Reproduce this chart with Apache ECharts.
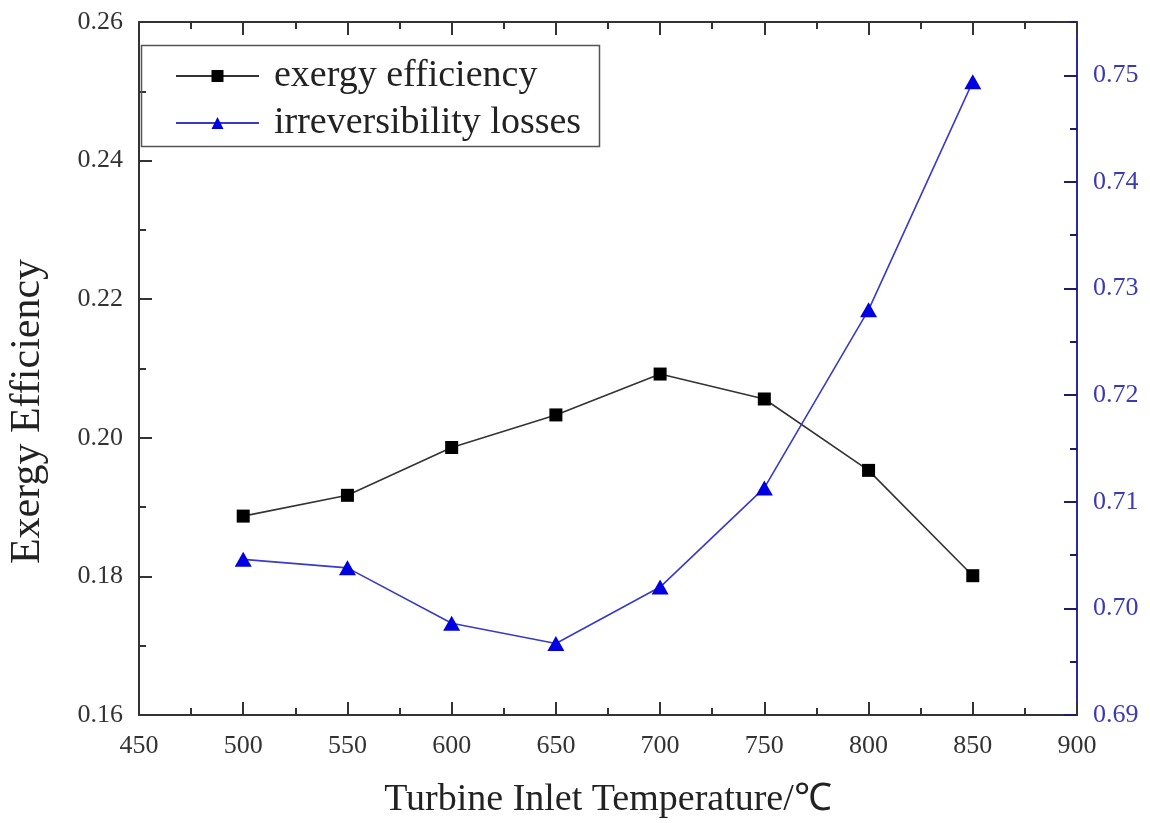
<!DOCTYPE html>
<html>
<head>
<meta charset="utf-8">
<script src="https://cdn.jsdelivr.net/npm/echarts@6/dist/echarts.min.js"></script>
<style>
html,body{margin:0;padding:0;background:#fff;}
#chart{width:1150px;height:823px;}
</style>
</head>
<body>
<div id="chart"></div>
<script>
const temperatures = [500, 550, 600, 650, 700, 750, 800, 850];
const exergyEfficiency = [0.1887, 0.1917, 0.1986, 0.2033, 0.2092, 0.2056, 0.1953, 0.1801];
const irreversibilityLosses = [0.7046, 0.7038, 0.6986, 0.6967, 0.7020, 0.7113, 0.7280, 0.7494];
const seriesNames = ['exergy efficiency', 'irreversibility losses'];
const xTitle = 'Turbine Inlet Temperature/℃';
const yTitle = 'Exergy Efficiency';

const FONT = '"Liberation Serif", "Times New Roman", serif';
const DARK = '#333333';
const BLUE_AXIS = '#2a2a9e';
const BLUE_LABEL = '#3a3ab4';

const chart = echarts.init(document.getElementById('chart'), null, {renderer: 'canvas'});

const xCommon = {
  type: 'value', min: 450, max: 900, interval: 50,
  axisLine: {show: true, onZero: false, lineStyle: {color: DARK, width: 2}},
  axisTick: {show: true, inside: true, length: 13, lineStyle: {color: DARK, width: 2}},
  minorTick: {show: true, splitNumber: 2, length: 7, lineStyle: {color: DARK, width: 2}},
  splitLine: {show: false}, minorSplitLine: {show: false}
};

chart.setOption({
  animation: false,
  backgroundColor: '#ffffff',
  grid: {left: 139, right: 73, top: 22, bottom: 108, containLabel: false, outerBoundsMode: 'none'},
  legend: {
    orient: 'vertical', left: 170, top: 52,
    itemWidth: 83, itemHeight: 15, itemGap: 9,
    data: seriesNames,
    textStyle: {fontFamily: FONT, fontSize: 38, color: '#222', lineHeight: 38, padding: [0, 0, 0, 10]}
  },
  xAxis: [
    Object.assign({}, xCommon, {
      position: 'bottom',
      name: xTitle, nameLocation: 'middle', nameGap: 66,
      nameTextStyle: {fontFamily: FONT, fontSize: 38, color: '#222'},
      axisLabel: {show: true, margin: 18, fontFamily: FONT, fontSize: 26, color: '#333'}
    }),
    Object.assign({}, xCommon, {
      position: 'top',
      axisLabel: {show: false}
    })
  ],
  yAxis: [
    {
      type: 'value', position: 'left', min: 0.16, max: 0.26, interval: 0.02,
      name: yTitle, nameLocation: 'middle', nameGap: 90, nameRotate: 90,
      nameTextStyle: {fontFamily: FONT, fontSize: 42, color: '#222', padding: [0, 86, 0, 0]},
      axisLine: {show: true, onZero: false, lineStyle: {color: DARK, width: 2}},
      axisTick: {show: true, inside: true, length: 13, lineStyle: {color: DARK, width: 2}},
      minorTick: {show: true, splitNumber: 2, length: 7, lineStyle: {color: DARK, width: 2}},
      axisLabel: {margin: 16, fontFamily: FONT, fontSize: 26, color: '#333', formatter: v => v.toFixed(2)},
      splitLine: {show: false}
    },
    {
      type: 'value', position: 'right', min: 0.69, max: 0.755, interval: 0.01,
      axisLine: {show: true, onZero: false, lineStyle: {color: BLUE_AXIS, width: 2}},
      axisTick: {show: true, inside: true, length: 13, lineStyle: {color: '#1c1c70', width: 2}},
      minorTick: {show: false},
      axisLabel: {margin: 16, fontFamily: FONT, fontSize: 26, color: BLUE_LABEL, showMaxLabel: false,
        formatter: v => (Math.abs(v - 0.755) < 1e-6 ? '' : v.toFixed(2))},
      splitLine: {show: false}
    },
    {
      type: 'value', position: 'right', min: 0.69, max: 0.755, interval: 0.005,
      axisLine: {show: false},
      axisTick: {show: true, inside: true, length: 7, lineStyle: {color: '#1c1c70', width: 2}},
      axisLabel: {show: false},
      splitLine: {show: false}
    }
  ],
  graphic: [{
    type: 'rect', left: 139, top: 43, z: 100,
    shape: {width: 458, height: 101},
    style: {fill: 'none', stroke: '#555555', lineWidth: 1.5}
  }],
  series: [
    {
      name: seriesNames[0], type: 'line', xAxisIndex: 0, yAxisIndex: 0,
      data: temperatures.map((t, i) => [t, exergyEfficiency[i]]),
      symbol: 'rect', symbolSize: 13,
      lineStyle: {color: '#333333', width: 1.6},
      itemStyle: {color: '#000000'}
    },
    {
      name: seriesNames[1], type: 'line', xAxisIndex: 0, yAxisIndex: 1,
      data: temperatures.map((t, i) => [t, irreversibilityLosses[i]]),
      symbol: 'triangle', symbolSize: [17, 15],
      lineStyle: {color: '#3a3ac8', width: 1.6},
      itemStyle: {color: '#0000e0'}
    }
  ]
});
</script>
</body>
</html>
